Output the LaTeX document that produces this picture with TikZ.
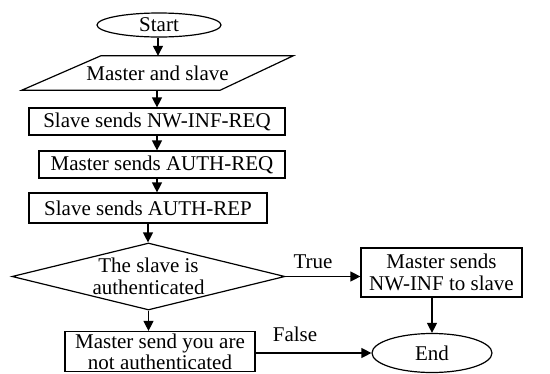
\documentclass[tikz,border=0pt]{standalone}
\usepackage{fontspec}
\setmainfont{Liberation Serif}
\usetikzlibrary{shapes.geometric,arrows.meta,calc}
\begin{document}
\begin{tikzpicture}[x=1pt,y=-1pt,
  every node/.style={font=\fontsize{21}{22}\selectfont, inner sep=0pt},
  box/.style={draw, line width=1.2pt, rectangle, align=center},
  oval/.style={draw, line width=1.2pt, ellipse},
  flow/.style={line width=1.2pt, -{Triangle[length=10pt,width=10pt]}},
  lbl/.style={}]
\useasboundingbox (0,0) rectangle (550,373);
\node[oval, minimum width=124pt, minimum height=24pt] (start) at (159,25) {Start};
\node[minimum width=271pt, minimum height=34pt] (para) at (157.5,73) {Master and slave};
\draw[line width=1.2pt] ([xshift=79pt]para.north west) -- (para.north east) -- ([xshift=-73pt]para.south east) -- (para.south west) -- cycle;
\node[box, minimum width=256pt, minimum height=27pt] (b1) at (157,121.5) {Slave sends NW-INF-REQ};
\node[box, minimum width=246pt, minimum height=27pt] (b2) at (162,164.5) {Master sends AUTH-REQ};
\node[box, minimum width=238pt, minimum height=30pt] (b3) at (148,208) {Slave sends AUTH-REP};
\node[diamond, draw, line width=1.2pt, align=center, aspect=4, inner sep=-4pt, minimum width=273pt, minimum height=67pt] (dia) at (148.5,276.5) {The slave is\\authenticated};
\node[box, minimum width=161pt, minimum height=49pt] (b4) at (441.5,272.5) {Master sends\\NW-INF to slave};
\node[box, minimum width=190pt, minimum height=40pt, font=\fontsize{21}{21}\selectfont] (b5) at (160,351.5) {Master send you are\\not authenticated};
\node[oval, minimum width=120pt, minimum height=39pt] (end) at (432,353) {End};
\node[lbl] (tl) at (313,262) {True};
\node[lbl] (fl) at (295,334) {False};
\draw[flow] ([xshift=-1pt]start.south) -- ([xshift=-1pt]start.south |- para.north);
\draw[flow] (b1.north |- para.south) -- (b1.north);
\draw[flow] (b1.south) -- (b1.south |- b2.north);
\draw[flow] (b1.south |- b2.south) -- (b1.south |- b3.north);
\draw[flow] (b3.south) -- (b3.south |- dia.north);
\draw[flow] (dia.south) -- (dia.south |- b5.north);
\draw[flow] (dia.east) -- (dia.east -| b4.west);
\draw[flow] (b4.south -| end.north) -- (end.north);
\draw[flow] (b5.east |- end.west) -- (end.west);
\end{tikzpicture}
\end{document}
